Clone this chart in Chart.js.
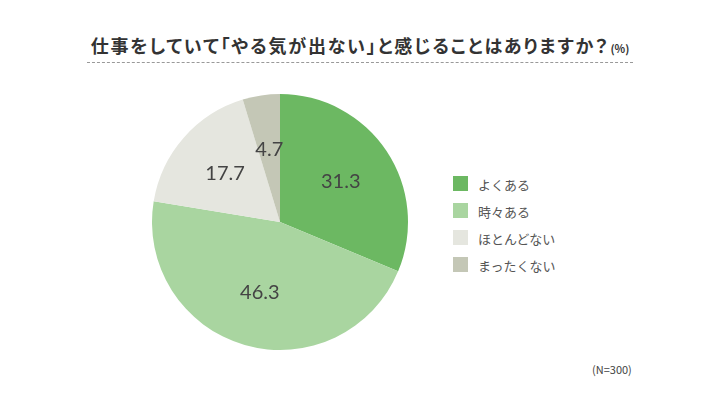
<!DOCTYPE html>
<html lang="ja">
<head>
<meta charset="utf-8">
<script src="https://cdn.jsdelivr.net/npm/chart.js@4"></script>
<style>
  html, body { margin: 0; padding: 0; background: #fff; }
  body { width: 720px; height: 395px; position: relative; overflow: hidden;
         font-family: "Noto Sans CJK JP", "Noto Sans", sans-serif; color: #333; }
  #title { position: absolute; left: 0; top: 32px; width: 720px; text-align: center;
           font-size: 18px; font-weight: bold; color: #333;
           font-feature-settings: "palt"; letter-spacing: 1.8px; white-space: nowrap; }
  #title small { font-size: 11px; font-weight: bold; margin-left: 1px; letter-spacing: 0; }
  #rule { position: absolute; left: 87px; top: 62px; width: 546px;
          border-top: 1px dashed #999; }
  #pieWrap { position: absolute; left: 150px; top: 92px; width: 260px; height: 260px; }
  #legend { position: absolute; left: 453px; top: 175px; margin: 0; padding: 0; list-style: none; }
  #legend li { height: 27px; display: flex; align-items: flex-start; font-size: 13px; color: #555; }
  #legend span.box { width: 15px; height: 15px; margin-right: 10px; margin-top: 1px; }
  #note { position: absolute; left: 592px; top: 361px; font-size: 11px; color: #444; }
</style>
</head>
<body>
<div id="title">仕事をしていて「やる気が出ない」と感じることはありますか？<small>(%)</small></div>
<div id="rule"></div>
<div id="pieWrap"><canvas id="pie"></canvas></div>
<ul id="legend"></ul>
<div id="note">(N=300)</div>
<script>
const categories = ['よくある', '時々ある', 'ほとんどない', 'まったくない'];
const values = [31.3, 46.3, 17.7, 4.7];
const colors = ['#6cb862', '#a9d5a0', '#e5e6df', '#c4c7b6'];

// slice labels drawn at a fraction of the radius
const sliceLabels = {
  id: 'sliceLabels',
  afterDatasetsDraw(chart) {
    const ctx = chart.ctx;
    const meta = chart.getDatasetMeta(0);
    ctx.save();
    ctx.font = '400 20px Lato, "Noto Sans", sans-serif';
    ctx.fillStyle = '#444';
    ctx.textAlign = 'center';
    ctx.textBaseline = 'middle';
    meta.data.forEach((arc, i) => {
      const mid = (arc.startAngle + arc.endAngle) / 2;
      const r = arc.outerRadius * 0.57;
      const x = arc.x + Math.cos(mid) * r;
      const y = arc.y + Math.sin(mid) * r;
      ctx.fillText(values[i].toFixed(1), x, y);
    });
    ctx.restore();
  }
};

new Chart(document.getElementById('pie'), {
  type: 'pie',
  data: {
    labels: categories,
    datasets: [{
      data: values,
      backgroundColor: colors,
      borderWidth: 0
    }]
  },
  options: {
    responsive: true,
    maintainAspectRatio: false,
    animation: false,
    layout: { padding: 2 },
    plugins: {
      legend: { display: false },
      tooltip: { enabled: false }
    }
  },
  plugins: [sliceLabels]
});

const legend = document.getElementById('legend');
categories.forEach((c, i) => {
  const li = document.createElement('li');
  li.innerHTML = '<span class="box" style="background:' + colors[i] + '"></span>' + c;
  legend.appendChild(li);
});
</script>
</body>
</html>
